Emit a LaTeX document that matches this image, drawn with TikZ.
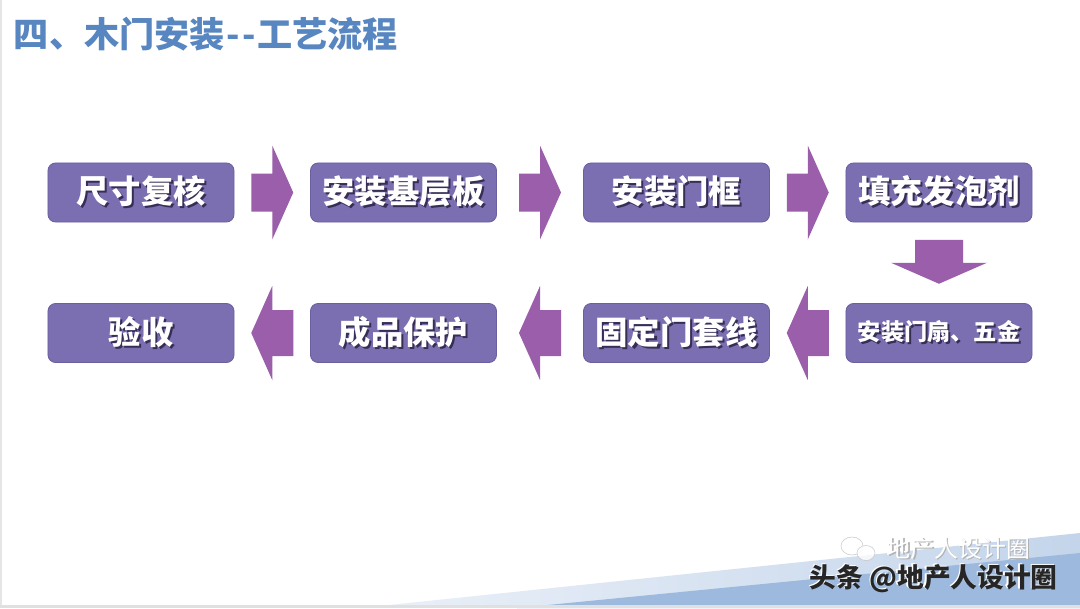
\documentclass[tikz,border=0pt]{standalone}
\usepackage{fontspec}
\usepackage{xcolor}
\usetikzlibrary{calc}
\newfontfamily\cjk{Noto Sans CJK SC}
\definecolor{boxpurple}{RGB}{123,111,178}
\definecolor{boxedge}{RGB}{106,95,160}
\definecolor{arrowpurple}{RGB}{154,94,170}
\definecolor{titleblue}{RGB}{88,134,192}
\definecolor{bandlight}{RGB}{196,213,235}
\definecolor{banddark}{RGB}{157,185,221}
\definecolor{shadowgray}{RGB}{55,45,85}
\newcommand\shtext[1]{\rlap{\kern1.5pt\raisebox{-1.5pt}{\color{shadowgray}#1}}{\color{white}#1}}
\newcommand\wmtext[1]{\rlap{\kern-1pt\raisebox{1pt}{\color{white}#1}}{\color{black!85}#1}}
% block arrows, drawn round a centre point
\newcommand\rarrow[1]{\fill[arrowpurple] (#1) ++(-21,-19) -- ++(21,0) -- ++(0,-28) -- ++(21,47) -- ++(-21,47) -- ++(0,-28) -- ++(-21,0) -- cycle;}
\newcommand\larrow[1]{\fill[arrowpurple] (#1) ++(21,-23) -- ++(-21,0) -- ++(0,-24) -- ++(-21,47) -- ++(21,47) -- ++(0,-24) -- ++(21,0) -- cycle;}
\newcommand\darrow[1]{\fill[arrowpurple] (#1) ++(-24,-23) -- ++(48,0) -- ++(0,23) -- ++(24,0) -- ++(-48,21) -- ++(-48,-21) -- ++(24,0) -- cycle;}

\begin{document}
\begin{tikzpicture}[x=0.025cm, y=-0.025cm,
    stepbox/.style={draw=boxedge, line width=0.6pt, fill=boxpurple, rounded corners=5.5pt,
        minimum width=132.3pt, minimum height=42pt, inner sep=0pt,
        font=\cjk\bfseries\fontsize{23}{23}\selectfont}]
    \useasboundingbox (0,0) rectangle (1080,608);
    \fill[white] (0,0) rectangle (1080,608);
    \fill[black!10] (0,0) rectangle (2,608);

    % bottom band
    \shade[left color=bandlight!35, right color=bandlight] (360,608) -- (1080,533) -- (1080,608) -- cycle;
    \fill[banddark] (517,608) -- (1080,553) -- (1080,608) -- cycle;
    \fill[black!12] (0,605) rectangle (1080,608);

    \node[anchor=west, text=titleblue, font=\cjk\bfseries\fontsize{25}{25}\selectfont] (title) at (9,34)
        {四、木门安装\kern1pt-\kern2pt-\kern1pt工艺流程};

    % first row
    \node[stepbox] (chicun) at (141,192.5) {\shtext{尺寸复核}};
    \node[stepbox] (jiceng) at (403.5,192.5) {\shtext{安装基层板}};
    \node[stepbox] (menkuang) at (676.5,192.5) {\shtext{安装门框}};
    \node[stepbox] (tianchong) at (939,192.5) {\shtext{填充发泡剂}};
    % second row
    \node[stepbox] (yanshou) at (141,333) {\shtext{验收}};
    \node[stepbox] (baohu) at (403.5,333) {\shtext{成品保护}};
    \node[stepbox] (taoxian) at (676.5,333) {\shtext{固定门套线}};
    \node[stepbox, font=\cjk\bfseries\fontsize{16.5}{16.5}\selectfont] (menshan) at (939,333) {\shtext{安装门扇、五金}};

    \path ($(chicun.east)!0.5!(jiceng.west)$) coordinate (r1)
          ($(jiceng.east)!0.5!(menkuang.west)$) coordinate (r2)
          ($(menkuang.east)!0.5!(tianchong.west)$) coordinate (r3)
          ($(tianchong.south)!0.5!(menshan.north)$) coordinate (d1)
          ($(taoxian.east)!0.5!(menshan.west)$) coordinate (l1)
          ($(baohu.east)!0.5!(taoxian.west)$) coordinate (l2)
          ($(yanshou.east)!0.5!(baohu.west)$) coordinate (l3);
    \rarrow{r1} \rarrow{r2} \rarrow{r3}
    \darrow{d1}
    \larrow{l1} \larrow{l2} \larrow{l3}

    % watermark
    \draw[black!25, fill=white, opacity=0.8] (852,546) ellipse (11 and 9);
    \draw[black!25, fill=white, opacity=0.8] (866,553) ellipse (9 and 7.5);
    \node[anchor=west, font=\cjk\fontsize{17}{17}\selectfont] (wmfaint) at (882,549)
        {\rlap{\kern0.8pt\raisebox{-0.8pt}{\color{black!30}地产人设计圈}}{\color{white}地产人设计圈}};
    \node[anchor=west, font=\cjk\bfseries\fontsize{19}{19}\selectfont] (wm) at (805,578) {\wmtext{头条 @地产人设计圈}};
\end{tikzpicture}
\end{document}
